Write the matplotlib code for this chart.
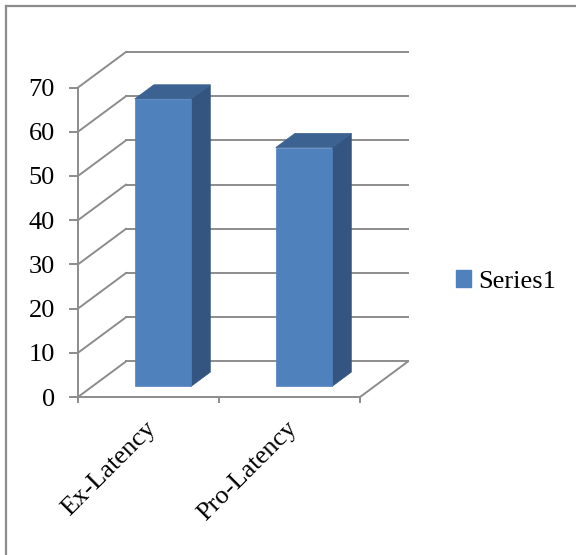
import matplotlib
matplotlib.use('Agg')
import matplotlib.pyplot as plt
import matplotlib.transforms as mtransforms
from matplotlib.patches import Polygon, Patch
from matplotlib.lines import Line2D

# data
categories = ['Ex-Latency', 'Pro-Latency']
values = [65, 54]
series_name = 'Series1'
y_ticks = [0, 10, 20, 30, 40, 50, 60, 70]

plt.rcParams['font.family'] = ['Liberation Serif', 'DejaVu Serif']
FS = 19

front_c = '#4F81BD'
side_c = '#34557F'
top_c = '#3C6292'
grid_c = '#8C8C8C'

# oblique depth of the 3d box (data units) and bar depth band
DX, DY = 0.34, 8.03
z0, z1 = 0.3, 0.7
bar_w = 0.4

W, H = 576, 555
fig = plt.figure(figsize=(W / 100, H / 100), dpi=100)
ax = fig.add_axes([78 / W, 1 - 397 / H, 330 / W, 345 / H])
n = len(categories)
ymax = y_ticks[-1]
ax.set_xlim(0, n + DX)
ax.set_ylim(0, ymax + DY)
ax.patch.set_visible(False)


def proj(x, y, z):
    return (x + z * DX, y + z * DY)


# back wall gridlines + side wall diagonals
for v in y_ticks:
    ax.plot([DX, n + DX], [v + DY, v + DY], color=grid_c, lw=1.4, zorder=1, clip_on=False)
    ax.plot([0, DX], [v, v + DY], color=grid_c, lw=1.4, zorder=1, clip_on=False)
# floor right edge
ax.plot([n, n + DX], [0, DY], color=grid_c, lw=1.4, zorder=1, clip_on=False)

# 3d bars
for i, v in enumerate(values):
    x0 = i + (1 - bar_w) / 2
    x1 = x0 + bar_w
    front = [proj(x0, 0, z0), proj(x1, 0, z0), proj(x1, v, z0), proj(x0, v, z0)]
    side = [proj(x1, 0, z0), proj(x1, 0, z1), proj(x1, v, z1), proj(x1, v, z0)]
    top = [proj(x0, v, z0), proj(x1, v, z0), proj(x1, v, z1), proj(x0, v, z1)]
    ax.add_patch(Polygon(side, closed=True, facecolor=side_c, edgecolor=side_c, lw=0.5, zorder=3))
    ax.add_patch(Polygon(top, closed=True, facecolor=top_c, edgecolor=top_c, lw=0.5, zorder=3))
    ax.add_patch(Polygon(front, closed=True, facecolor=front_c, edgecolor=front_c, lw=0.5, zorder=4))

# axes
for s in ['top', 'right']:
    ax.spines[s].set_visible(False)
ax.spines['left'].set_bounds(0, ymax)
ax.spines['bottom'].set_bounds(0, n)
for s in ['left', 'bottom']:
    ax.spines[s].set_color(grid_c)
    ax.spines[s].set_linewidth(1.4)
    ax.spines[s].set_zorder(2)

ax.set_yticks(y_ticks)
ax.set_yticklabels([str(t) for t in y_ticks])
ax.tick_params(axis='y', length=6.5, width=1.4, color=grid_c, pad=10, labelsize=FS)
ax.set_xticks(range(n + 1))
ax.set_xticklabels([])
ax.tick_params(axis='x', length=4.3, width=1.4, color=grid_c)

off = mtransforms.ScaledTranslation(-4 / 100, -20 / 100, fig.dpi_scale_trans)
for i, cat in enumerate(categories):
    ax.text(i + 0.5, 0, cat, rotation=45, rotation_mode='anchor', ha='right', va='top',
            fontsize=FS, transform=ax.transData + off)

ax.legend(handles=[Patch(facecolor=front_c, edgecolor=front_c, label=series_name)],
          loc='center left', bbox_to_anchor=(456 / W, 1 - 281.5 / H),
          bbox_transform=fig.transFigure, frameon=False, fontsize=FS,
          handlelength=0.58, handleheight=0.58, handletextpad=0.25, borderpad=0, borderaxespad=0)

# chart area border
fig.add_artist(Line2D([5.5 / W, 1], [1 - 5.5 / H, 1 - 5.5 / H], color='#8C8C8C', lw=1.6))
fig.add_artist(Line2D([5.5 / W, 5.5 / W], [0, 1 - 5.5 / H], color='#8C8C8C', lw=1.6))

fig.savefig('out.png', dpi=100)
